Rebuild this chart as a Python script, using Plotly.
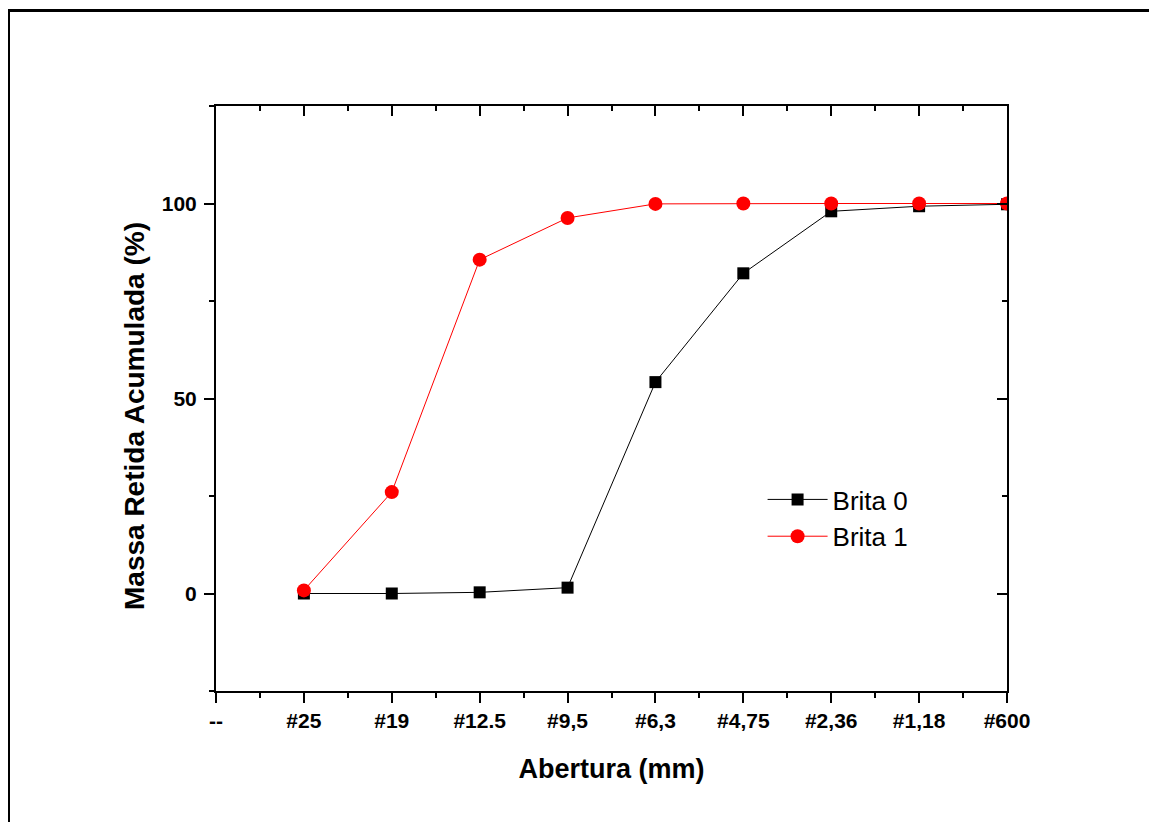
import plotly.graph_objects as go

# categories on the x axis (sieve openings)
categories = ["--", "#25", "#19", "#12.5", "#9,5", "#6,3", "#4,75", "#2,36", "#1,18", "#600"]
sieves = ["#25", "#19", "#12.5", "#9,5", "#6,3", "#4,75", "#2,36", "#1,18", "#600"]
brita0 = [0.0, 0.0, 0.3, 1.5, 54.2, 82.1, 98.0, 99.3, 99.8]
brita1 = [0.8, 26.0, 85.6, 96.3, 99.9, 100.0, 100.0, 100.0, 100.0]
y_ticks = [0, 50, 100]

x_pos = [categories.index(s) for s in sieves]

FONT = "Liberation Sans, Arial, sans-serif"

fig = go.Figure()
fig.add_trace(go.Scatter(
    x=x_pos, y=brita0, mode="lines+markers", name="Brita 0",
    line=dict(color="black", width=1),
    marker=dict(symbol="square", size=12, color="black"),
    xaxis="x", yaxis="y",
))
fig.add_trace(go.Scatter(
    x=x_pos, y=brita1, mode="lines+markers", name="Brita 1",
    line=dict(color="#ff0000", width=1),
    marker=dict(symbol="circle", size=14, color="#ff0000"),
    xaxis="x2", yaxis="y2",
))

# page has an 8px body margin; figure coordinates are shifted accordingly
OFF = 8
W, H = 1157 - OFF, 822 - OFF
L, R, T, B = 216 - OFF, 1007 - OFF, 106 - OFF, 691 - OFF

axis_common = dict(showgrid=False, zeroline=False, showline=True,
                   linecolor="black", linewidth=2,
                   tickcolor="black", tickwidth=2, ticklen=10)

fig.update_layout(
    width=W, height=H,
    margin=dict(l=L, r=W - R, t=T, b=H - B, pad=0),
    paper_bgcolor="white", plot_bgcolor="white",
    font=dict(family=FONT, color="black"),
    showlegend=True,
    legend=dict(x=0.691, y=0.3675, xanchor="left", yanchor="top",
                bgcolor="rgba(0,0,0,0)", borderwidth=0,
                font=dict(family=FONT, size=26, color="black"),
                itemwidth=60),
    xaxis=dict(**axis_common, range=[0, 9], tickmode="array",
               tickvals=list(range(len(categories))), ticktext=categories,
               ticks="outside",
               minor=dict(ticks="outside", ticklen=5, tickwidth=2, tickcolor="black", dtick=0.5, tick0=0),
               tickfont=dict(family=FONT, size=21, color="black", weight="bold"),
               title=dict(text="<b>Abertura (mm)</b>", font=dict(family=FONT, size=27, color="black"), standoff=28)),
    yaxis=dict(**axis_common, range=[-25, 125], tickmode="array",
               tickvals=y_ticks, ticktext=[str(v) for v in y_ticks],
               ticks="outside", ticklabelstandoff=3,
               minor=dict(ticks="outside", ticklen=5, tickwidth=2, tickcolor="black", dtick=25, tick0=0),
               tickfont=dict(family=FONT, size=21, color="black", weight="bold")),
    xaxis2=dict(**axis_common, range=[0, 9], overlaying="x", side="top", anchor="y2",
                tickmode="array", tickvals=list(range(len(categories))),
                ticks="inside", showticklabels=False,
                minor=dict(ticks="inside", ticklen=5, tickwidth=2, tickcolor="black", dtick=0.5, tick0=0)),
    yaxis2=dict(**axis_common, range=[-25, 125], overlaying="y", side="right", anchor="x2",
                tickmode="array", tickvals=y_ticks,
                ticks="inside", showticklabels=False,
                minor=dict(ticks="inside", ticklen=5, tickwidth=2, tickcolor="black", dtick=25, tick0=0)),
)

# y axis title (placed as in the original, slightly below the axis centre)
fig.add_annotation(text="<b>Massa Retida Acumulada (%)</b>", textangle=-90,
                   xref="paper", yref="paper",
                   x=(134.5 - OFF - L) / (R - L), y=(B - (416.5 - OFF)) / (B - T),
                   xanchor="center", yanchor="middle", showarrow=False,
                   font=dict(family=FONT, size=28, color="black"))

# outer frame of the figure
fx0 = (8.5 - OFF - L) / (R - L)
fx1 = (1162 - OFF - L) / (R - L)
fy1 = (B - (10.5 - OFF)) / (B - T)
fy0 = (B - (828 - OFF)) / (B - T)
fig.add_shape(type="rect", xref="paper", yref="paper", x0=fx0, x1=fx1, y0=fy0, y1=fy1,
              line=dict(color="black", width=3), fillcolor="rgba(0,0,0,0)", layer="above")

fig.write_html("out.html")
